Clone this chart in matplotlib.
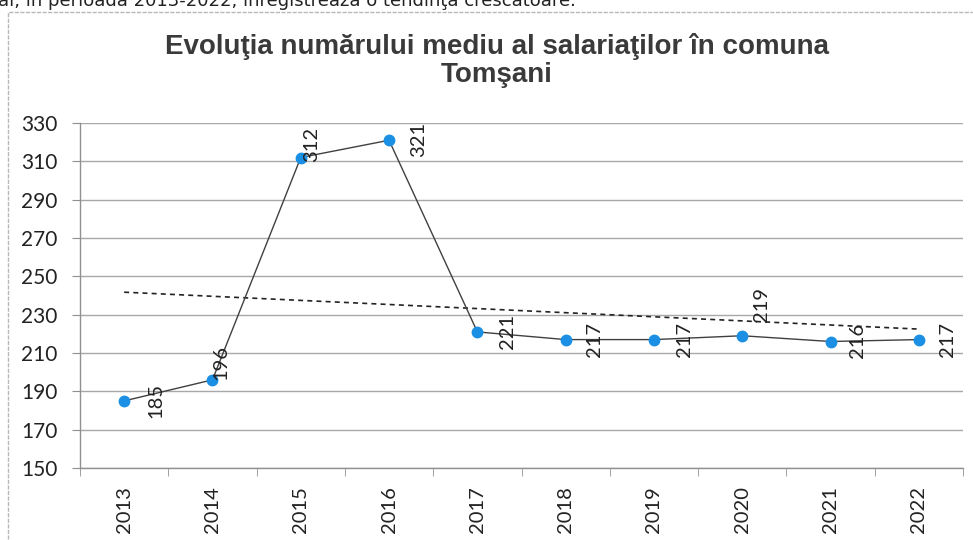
import numpy as np
import matplotlib
matplotlib.use("Agg")
import matplotlib.pyplot as plt
from matplotlib.patches import Rectangle

years = ["2013", "2014", "2015", "2016", "2017", "2018", "2019", "2020", "2021", "2022"]
values = [185, 196, 312, 321, 221, 217, 217, 219, 216, 217]
title = "Evoluţia numărului mediu al salariaţilor în comuna\nTomşani"
top_text = "al, în perioada 2013-2022, înregistrează o tendinţa crescatoare."

# label offsets (pixels) relative to each point
label_offsets = [(32, 0), (8, 17), (11, 13), (30, 1), (30, 0),
                 (29, 0), (31, 0), (19, 31), (27, 1), (29, 0)]

W, H = 973, 540
fig = plt.figure(figsize=(W / 100, H / 100), dpi=100)
fig.patch.set_facecolor("white")

# outer chart frame
fig.patches.append(Rectangle((8 / W, 0 - 0.01), 1.0, (H - 12) / H + 0.01,
                             transform=fig.transFigure, fill=False,
                             edgecolor="#b8b8b8", linewidth=1.0, linestyle=(0, (3, 1))))

fig.text(-0.002, 1 - 6 / H, top_text, fontsize=13, family="Liberation Sans Narrow",
         ha="left", va="baseline", color="#222222")

ax = fig.add_axes([80 / W, 1 - 468 / H, (963 - 80) / W, (468 - 123) / H])
x = np.arange(len(years))

ax.set_xlim(-0.5, len(years) - 0.5)
ax.set_ylim(150, 330)
ax.set_yticks(np.arange(150, 331, 20))
ax.grid(axis="y", color="#a8a8a8", linewidth=1.0)
ax.set_axisbelow(True)

# trendline (linear fit)
coef = np.polyfit(x, values, 1)
ax.plot(x, np.polyval(coef, x), linestyle=(0, (3, 2.5)), color="#222222", linewidth=1.2, zorder=2)

ax.plot(x, values, color="#404040", linewidth=1.0, zorder=3)
ax.plot(x, values, linestyle="none", marker="o", markersize=7.5,
        markerfacecolor="#1a8fe3", markeredgecolor="#1a8fe3", zorder=4)

for xi, v, (dx, dy) in zip(x, values, label_offsets):
    ax.annotate(str(v), (xi, v), xytext=(dx, dy), textcoords="offset pixels",
                rotation=90, ha="center", va="center", fontsize=14.5,
                family="Lato", color="#222222", zorder=5)

for s in ["top", "right"]:
    ax.spines[s].set_visible(False)
for s in ["left", "bottom"]:
    ax.spines[s].set_color("#909090")
    ax.spines[s].set_linewidth(1.0)

ax.set_xticks(x)
ax.set_xticklabels(years, rotation=90, fontsize=14.5, family="Lato", color="#222222")
ax.tick_params(axis="x", which="major", length=0, pad=13)
ax.set_xticks(np.arange(-0.5, len(years)), minor=True)
ax.tick_params(axis="x", which="minor", length=6, color="#909090", direction="out")
ax.tick_params(axis="y", length=6, color="#909090", pad=10, labelsize=15)
for lbl in ax.get_yticklabels():
    lbl.set_family("Lato")
    lbl.set_color("#222222")

fig.text(497 / W, 1 - 61 / H, title, ha="center", va="center", fontsize=20,
         fontweight="bold", family="Liberation Sans", color="#3a3a3a", linespacing=1.1)

fig.savefig("out.png", dpi=100, facecolor="white")
